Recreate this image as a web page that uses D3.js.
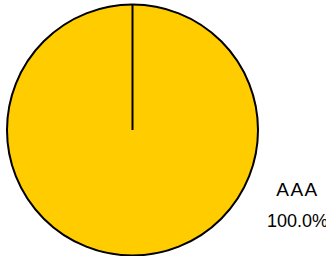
<!DOCTYPE html>
<html>
<head>
<meta charset="utf-8">
<script src="https://cdn.jsdelivr.net/npm/d3@7"></script>
<style>
  body { margin: 0; background: #fff; }
  svg { display: block; }
  text { font-family: "Liberation Sans", Arial, sans-serif; }
</style>
</head>
<body>
<div id="chart"></div>
<script>
var categories = ["AAA"];
var values = [100];
var colors = ["#ffcc00"];

var width = 326, height = 256;
var cx = 132.5, cy = 130, radius = 125.5;

var svg = d3.select("#chart").append("svg")
    .attr("width", width)
    .attr("height", height);

var pie = d3.pie().sort(null).value(function(d){ return d; });
var arc = d3.arc().innerRadius(0).outerRadius(radius);
var total = d3.sum(values);

var g = svg.append("g").attr("transform", "translate(" + cx + "," + cy + ")");

g.selectAll("path")
    .data(pie(values))
    .enter()
    .append("path")
    .attr("d", arc)
    .attr("fill", function(d, i){ return colors[i]; })
    .attr("stroke", "#000")
    .attr("stroke-width", 2);

// slice boundary lines from centre
g.selectAll("line.edge")
    .data(pie(values))
    .enter()
    .append("line")
    .attr("class", "edge")
    .attr("x1", 0).attr("y1", 0)
    .attr("x2", function(d){ return radius * Math.sin(d.startAngle); })
    .attr("y2", function(d){ return -radius * Math.cos(d.startAngle); })
    .attr("stroke", "#000")
    .attr("stroke-width", 2);

// labels
var labels = svg.append("g").attr("transform", "translate(297.5,0)");
labels.append("text")
    .attr("x", 0).attr("y", 196)
    .attr("text-anchor", "middle")
    .style("font-size", "19px")
    .style("letter-spacing", "1.5px")
    .text(categories[0]);
labels.append("text")
    .attr("x", 0).attr("y", 227)
    .attr("text-anchor", "middle")
    .style("font-size", "18px")
    .text((values[0] / total * 100).toFixed(1) + "%");
</script>
</body>
</html>
